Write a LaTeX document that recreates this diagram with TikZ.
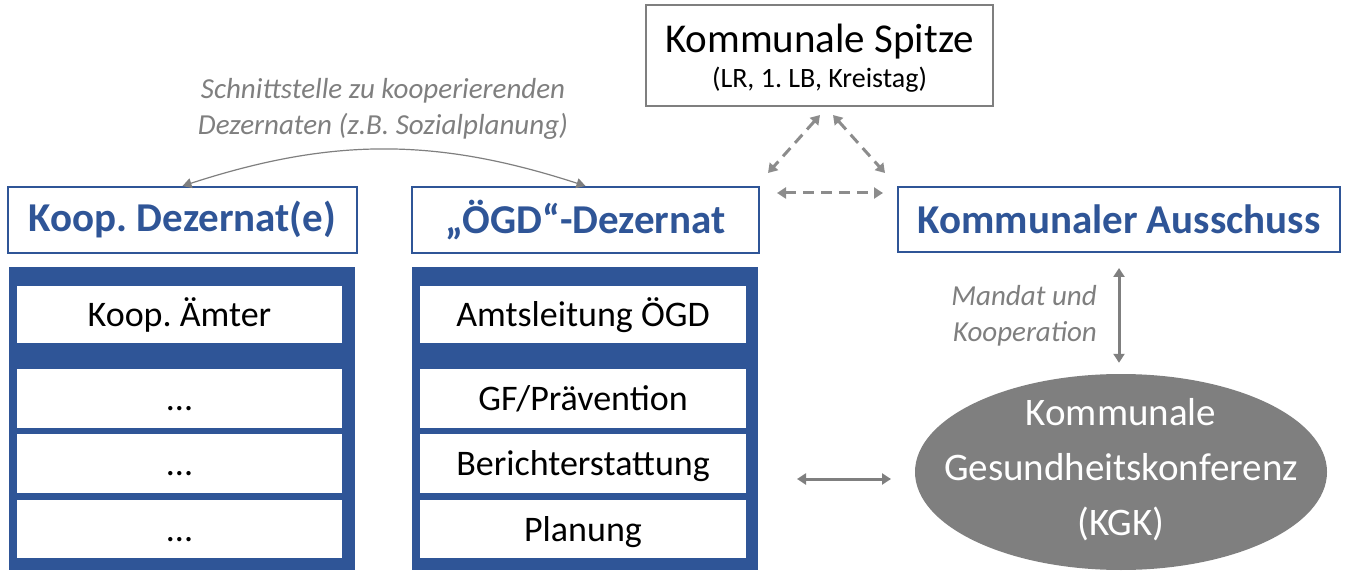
\documentclass[tikz,border=0pt]{standalone}
\usepackage{fontspec}
\setmainfont{Carlito}
\frenchspacing
\usetikzlibrary{arrows.meta,shapes.geometric}
\definecolor{oblue}{HTML}{2F5597}
\definecolor{ogray}{HTML}{7F7F7F}
\definecolor{agray}{HTML}{8C8C8C}
\tikzset{
  titlebox/.style={draw=oblue, line width=2pt, fill=white, inner sep=0pt,
    minimum height=66pt, text=oblue, font=\fontsize{41}{49}\selectfont\bfseries},
  colbox/.style={fill=oblue, inner sep=0pt, minimum width=346pt, minimum height=303pt},
  rowbox/.style={fill=white, inner sep=0pt, minimum height=58pt,
    text height=28pt, text depth=4pt,
    font=\fontsize{36}{43}\selectfont},
  spitzebox/.style={draw=ogray, line width=2pt, fill=white, inner sep=0pt,
    minimum width=347pt, minimum height=101pt},
  kgkshape/.style={ellipse, fill=ogray, inner sep=0pt, minimum width=412pt,
    minimum height=196pt},
  kgktext/.style={text=white, align=center, inner sep=0pt,
    font=\fontsize{39}{55}\selectfont},
  note/.style={text=ogray, font=\fontsize{29}{34}\selectfont\itshape, inner sep=0pt},
  solidarr/.style={draw=ogray, line width=3pt,
    {Triangle[width=11pt,length=9pt]}-{Triangle[width=11pt,length=9pt]}},
  dasharr/.style={draw=agray, line width=3pt, dash pattern=on 11pt off 7pt,
    {Triangle[width=11pt,length=9pt]}-{Triangle[width=11pt,length=9pt]}},
  thinarr/.style={draw=ogray, line width=1.2pt,
    {Triangle[width=10pt,length=9pt]}-{Triangle[width=10pt,length=9pt]}},
}
\begin{document}
\begin{tikzpicture}[x=1pt,y=1pt]
\useasboundingbox (0,0) rectangle (1350,574);
% Kommunale Spitze
\node[spitzebox] (ks) at (819.5,518.5) {};
\node[inner sep=0pt, font=\fontsize{41}{49}\selectfont] (kst1) at (819.5,532) {Kommunale Spitze};
\node[inner sep=0pt, font=\fontsize{28}{32}\selectfont] (kst2) at (819.5,494) {(LR, 1. LB, Kreistag)};
% title boxes
\node[titlebox, minimum width=349pt] (kd) at (182.5,354) {Koop. Dezernat(e)};
\node[titlebox, minimum width=347pt] (og) at (585.5,354) {„ÖGD“-Dezernat};
\node[titlebox, minimum width=442pt, minimum height=65pt] (ka) at (1119,354.5) {Kommunaler Ausschuss};
% columns
\node[colbox] (kcol) at (182,155.5) {};
\node[colbox] (ocol) at (585,155.5) {};
% left rows
\node[rowbox, minimum width=325pt, minimum height=57pt] (k1) at (179.5,259.5) {Koop. Ämter};
\node[rowbox, minimum width=325pt, minimum height=59pt] (k2) at (179.5,175.5) {...};
\node[rowbox, minimum width=325pt, minimum height=59pt] (k3) at (179.5,110.5) {...};
\node[rowbox, minimum width=325pt, minimum height=58pt] (k4) at (179.5,45) {...};
% middle rows
\node[rowbox, minimum width=326pt, minimum height=57pt] (o1) at (583,259.5) {Amtsleitung ÖGD};
\node[rowbox, minimum width=326pt, minimum height=59pt] (o2) at (583,175.5) {GF/Prävention};
\node[rowbox, minimum width=326pt, minimum height=59pt] (o3) at (583,110.5) {Berichterstattung};
\node[rowbox, minimum width=326pt, minimum height=58pt] (o4) at (583,45) {Planung};
% KGK
\node[kgkshape] (kgk) at (1121,102) {};
\node[kgktext] (kgkt) at (1121,104) {Kommunale\\Gesundheitskonferenz\\(KGK)};
% notes
\node[note, align=center] (schnitt) at (383,465) {Schnittstelle zu kooperierenden\\[2pt]Dezernaten (z.B. Sozialplanung)};
\node[note, align=right, anchor=east] (mandat) at (1097,258) {Mandat und\\[2pt]Kooperation};
% arc between Dezernate
\draw[thinarr] (kd.north) to[bend left=18] (og.north);
% dashed triangle
\coordinate (d1a) at (820,459);
\coordinate (d1b) at (768,401);
\coordinate (d2a) at (833,459);
\coordinate (d2b) at (885,401);
\coordinate (d3a) at (777,381);
\coordinate (d3b) at (883,381);
\draw[dasharr] (d1a) -- (d1b);
\draw[dasharr] (d2a) -- (d2b);
\draw[dasharr] (d3a) -- (d3b);
% Mandat arrow
\draw[solidarr, shorten <=15pt, shorten >=11pt] (ka.south) -- (ka.south |- kgk.north);
% horizontal arrow to KGK
\coordinate (h1) at (797,95);
\coordinate (h2) at (891,95);
\draw[solidarr] (h1) -- (h2);
\end{tikzpicture}
\end{document}
